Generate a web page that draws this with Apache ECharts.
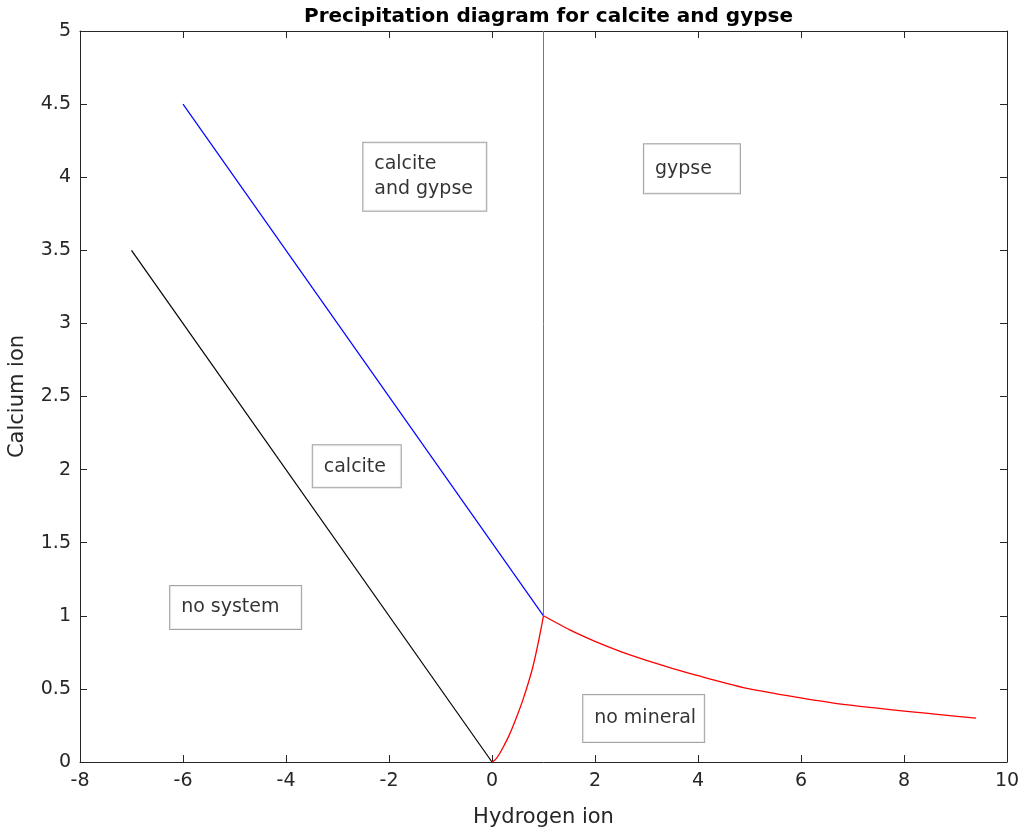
<!DOCTYPE html>
<html>
<head>
<meta charset="utf-8">
<script src="https://cdn.jsdelivr.net/npm/echarts@6/dist/echarts.min.js"></script>
<style>
html,body{margin:0;padding:0;background:#fff;}
#chart{width:1027px;height:833px;}
</style>
</head>
<body>
<div id="chart"></div>
<script>
// ---- data ----
const blackX = [-7, 0];
const blackY = [3.5, 0];
const blueX = [-6, 1];
const blueY = [4.5, 1];
const vertX = [1, 1];
const vertY = [1, 5];
const redLowX = [0, 0.05, 0.1, 0.15, 0.2, 0.3, 0.4, 0.5, 0.6, 0.7, 0.8, 0.9, 1.0];
const redLowY = [0, 0.012, 0.032, 0.058, 0.09, 0.158, 0.238, 0.328, 0.425, 0.535, 0.66, 0.82, 1.0];
const redHighX = [1, 1.5, 2, 2.5, 3, 3.5, 4, 5, 6.7, 9.4];
const redHighY = [1, 0.905, 0.825, 0.755, 0.695, 0.64, 0.59, 0.5, 0.4, 0.3];
const boxTexts = ['calcite\nand gypse', 'gypse', 'calcite', 'no system', 'no mineral'];
const boxX = [-2.5, 2.95, -3.48, -6.25, 1.77];
const boxY = [3.77, 3.89, 1.88, 0.91, 0.137];
const xTickMin = -8, xTickMax = 10, xTickStep = 2;
const yTickMin = 0, yTickMax = 5, yTickStep = 0.5;

const FONT = 'DejaVu Sans';
const AX = '#262626';

function pairs(xs, ys) { return xs.map((x, i) => [x, ys[i]]); }

// box outer sizes in px
const boxW = [125, 98, 90, 133, 123];
const boxH = [68, 49, 42, 43, 47];

const chart = echarts.init(document.getElementById('chart'), null, {renderer: 'canvas'});

const lineBase = {type: 'line', showSymbol: false, symbol: 'none', animation: false, z: 3};

const annData = boxTexts.map((t, i) => {
  const lines = t.split('\n').length;
  const padL = 11;
  const lh = 25;
  const contentH = lines * lh;
  const padT = Math.round((boxH[i] - contentH) / 2);
  const padB = boxH[i] - contentH - padT;
  return {
    value: [boxX[i], boxY[i]],
    label: {
      show: true,
      formatter: t,
      position: [0, 0],
      align: 'left',
      verticalAlign: 'bottom',
      fontFamily: FONT,
      fontSize: 19,
      color: '#000',
      lineHeight: lh,
      backgroundColor: '#fff',
      borderColor: '#8c8c8c',
      borderWidth: 1,
      width: boxW[i] - padL - 2,
      padding: [padT, 0, padB, padL]
    }
  };
});

const axisCommon = {
  axisLine: {show: true, onZero: false, lineStyle: {color: AX, width: 1}},
  axisTick: {show: true, inside: true, length: 7, lineStyle: {color: AX}},
  splitLine: {show: false}
};

const option = {
  animation: false,
  backgroundColor: '#fff',
  title: {
    text: 'Precipitation diagram for calcite and gypse',
    left: 543.5,
    textAlign: 'center',
    top: 2,
    textStyle: {fontFamily: FONT, fontSize: 20, fontWeight: 'bold', color: '#000'}
  },
  grid: {left: 80, right: 20, top: 31, bottom: 71, containLabel: false, outerBoundsMode: 'none'},
  xAxis: [Object.assign({
    type: 'value', min: xTickMin, max: xTickMax, interval: xTickStep,
    name: 'Hydrogen ion', nameLocation: 'middle', nameGap: 45,
    nameTextStyle: {fontFamily: FONT, fontSize: 21, color: AX},
    axisLabel: {fontFamily: FONT, fontSize: 19, color: AX, margin: 10}
  }, axisCommon), Object.assign({
    type: 'value', position: 'top', min: xTickMin, max: xTickMax, interval: xTickStep,
    axisLabel: {show: false}
  }, axisCommon)],
  yAxis: [Object.assign({
    type: 'value', min: yTickMin, max: yTickMax, interval: yTickStep,
    name: 'Calcium ion', nameLocation: 'middle', nameGap: 52,
    nameTextStyle: {fontFamily: FONT, fontSize: 21, color: AX},
    axisLabel: {fontFamily: FONT, fontSize: 19, color: AX, margin: 9}
  }, axisCommon), Object.assign({
    type: 'value', position: 'right', min: yTickMin, max: yTickMax, interval: yTickStep,
    axisLabel: {show: false}
  }, axisCommon)],
  series: [
    Object.assign({}, lineBase, {name: 'black', data: pairs(blackX, blackY), lineStyle: {color: '#000', width: 1.2}}),
    Object.assign({}, lineBase, {name: 'blue', data: pairs(blueX, blueY), lineStyle: {color: '#0000ff', width: 1.2}}),
    Object.assign({}, lineBase, {name: 'vertical', data: pairs(vertX, vertY), lineStyle: {color: '#6666ff', width: 1}}),
    Object.assign({}, lineBase, {name: 'redLow', smooth: 0.3, data: pairs(redLowX, redLowY), lineStyle: {color: '#ff0000', width: 1.3}}),
    Object.assign({}, lineBase, {name: 'redHigh', smooth: 0.2, data: pairs(redHighX, redHighY), lineStyle: {color: '#ff0000', width: 1.3}}),
    {type: 'scatter', symbolSize: 0, data: annData, z: 5, silent: true, animation: false}
  ]
};
chart.setOption(option);
</script>
</body>
</html>
